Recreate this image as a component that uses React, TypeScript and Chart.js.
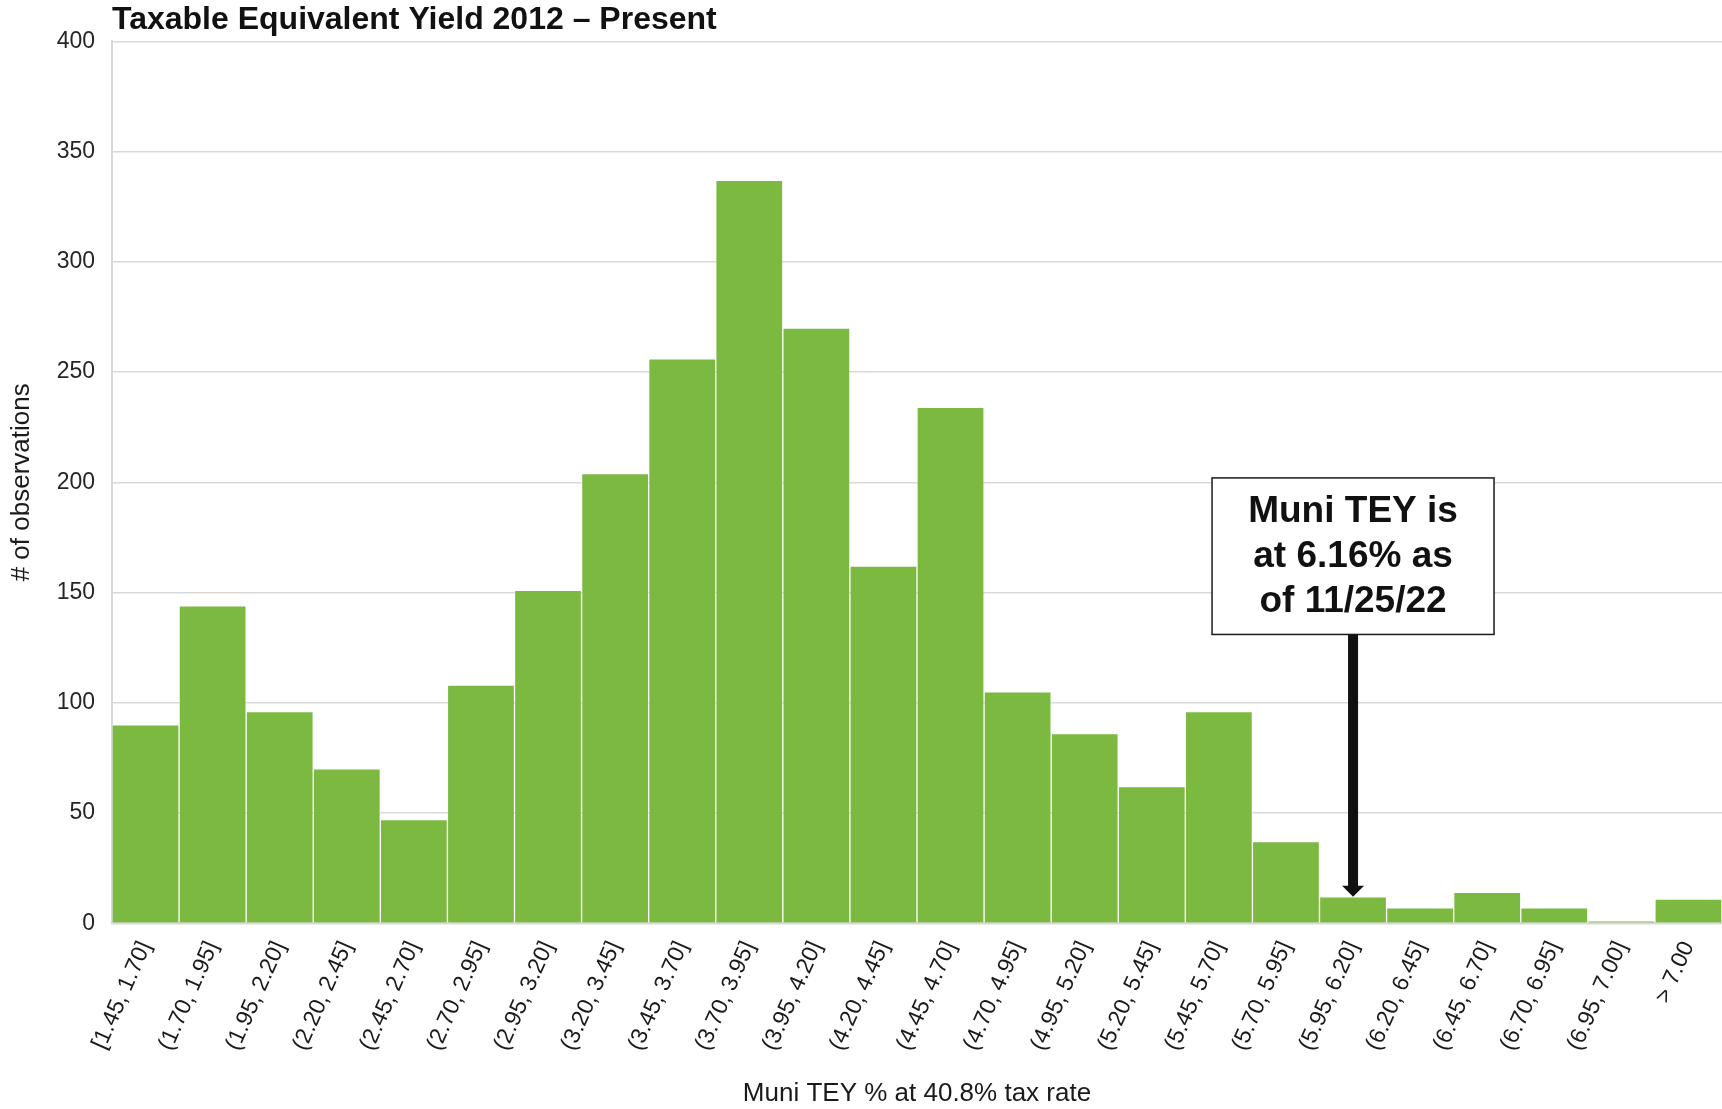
import React, { useEffect, useRef } from "react";
import { Chart, registerables } from "chart.js";

Chart.register(...registerables);

const chartTitle = "Taxable Equivalent Yield 2012 \u2013 Present";
const xAxisTitle = "Muni TEY % at 40.8% tax rate";
const yAxisTitle = "# of observations";

const categories = [
  "[1.45, 1.70]",
  "(1.70, 1.95]",
  "(1.95, 2.20]",
  "(2.20, 2.45]",
  "(2.45, 2.70]",
  "(2.70, 2.95]",
  "(2.95, 3.20]",
  "(3.20, 3.45]",
  "(3.45, 3.70]",
  "(3.70, 3.95]",
  "(3.95, 4.20]",
  "(4.20, 4.45]",
  "(4.45, 4.70]",
  "(4.70, 4.95]",
  "(4.95, 5.20]",
  "(5.20, 5.45]",
  "(5.45, 5.70]",
  "(5.70, 5.95]",
  "(5.95, 6.20]",
  "(6.20, 6.45]",
  "(6.45, 6.70]",
  "(6.70, 6.95]",
  "(6.95, 7.00]",
  "> 7.00",
];

const observations = [
  90, 144, 96, 70, 47, 108, 151, 204, 256, 337, 270, 162, 234, 105, 86, 62, 96,
  37, 12, 7, 14, 7, 1, 11,
];

const yMin = 0;
const yMax = 400;
const yStep = 50;

const annotationLines = ["Muni TEY is", "at 6.16% as", "of 11/25/22"];
const annotationCategory = "(5.95, 6.20]";
const annotationBoxTopValue = 202;
const annotationBoxBottomValue = 131;

const FONT = "'Liberation Sans', Arial, Helvetica, sans-serif";

const annotationPlugin = {
  id: "teyAnnotation",
  afterDatasetsDraw(chart: any) {
    const { ctx, scales } = chart;
    const x = scales.x;
    const y = scales.y;
    const idx = categories.indexOf(annotationCategory);
    const cx = x.getPixelForValue(idx);
    const barTop = y.getPixelForValue(observations[idx]);
    const boxTop = y.getPixelForValue(annotationBoxTopValue);
    const boxBottom = y.getPixelForValue(annotationBoxBottomValue);
    const boxW = 282;
    const boxLeft = cx - boxW / 2;

    ctx.save();
    const headH = 11;
    const headW = 22;
    ctx.fillStyle = "#111111";
    ctx.fillRect(cx - 5, boxBottom, 10, barTop - headH - boxBottom + 1);
    ctx.beginPath();
    ctx.moveTo(cx - headW / 2, barTop - headH);
    ctx.lineTo(cx + headW / 2, barTop - headH);
    ctx.lineTo(cx, barTop);
    ctx.closePath();
    ctx.fill();

    ctx.fillStyle = "#ffffff";
    ctx.fillRect(boxLeft, boxTop, boxW, boxBottom - boxTop);
    ctx.strokeStyle = "#1a1a1a";
    ctx.lineWidth = 1.5;
    ctx.strokeRect(boxLeft, boxTop, boxW, boxBottom - boxTop);

    ctx.fillStyle = "#111111";
    ctx.font = `bold 37px ${FONT}`;
    ctx.textAlign = "center";
    ctx.textBaseline = "middle";
    const cy = (boxTop + boxBottom) / 2;
    const lh = 45;
    annotationLines.forEach((line, i) => {
      ctx.fillText(line, cx, cy + (i - (annotationLines.length - 1) / 2) * lh + 1);
    });
    ctx.restore();
  },
};

export default function App() {
  const canvasRef = useRef<HTMLCanvasElement | null>(null);

  useEffect(() => {
    document.body.style.margin = "0";
    document.body.style.overflow = "hidden";
    const canvas = canvasRef.current;
    if (!canvas) return;
    const chart = new Chart(canvas, {
      type: "bar",
      data: {
        labels: categories,
        datasets: [
          {
            label: yAxisTitle,
            data: observations,
            backgroundColor: "#7bb941",
            borderColor: "rgba(255,255,255,0.18)",
            borderWidth: 1,
            barPercentage: 1,
            categoryPercentage: 1,
          },
        ],
      },
      options: {
        animation: false,
        responsive: false,
        maintainAspectRatio: false,
        layout: {
          padding: { left: 4, right: 0, top: 0, bottom: 0 },
        },
        plugins: {
          legend: { display: false },
          tooltip: { enabled: false },
          title: {
            display: true,
            text: chartTitle,
            align: "start",
            fullSize: false,
            color: "#111111",
            font: { family: FONT, size: 32, weight: "bold" },
            padding: { top: 1, bottom: 2 },
          },
        },
        scales: {
          x: {
            grid: { display: false, drawTicks: false },
            border: { display: true, color: "#d9d9d9", width: 2 },
            afterFit(scale: any) {
              scale.paddingLeft = 0;
              scale.paddingRight = 0;
            },
            ticks: {
              color: "#1a1a1a",
              font: { family: FONT, size: 23 },
              minRotation: 66,
              maxRotation: 66,
              autoSkip: false,
              padding: 14,
            },
            title: {
              display: true,
              text: xAxisTitle,
              color: "#1a1a1a",
              font: { family: FONT, size: 26 },
              padding: { top: 9, bottom: 0 },
            },
          },
          y: {
            min: yMin,
            max: yMax,
            afterFit(scale: any) {
              scale.width = 108;
            },
            grid: { color: "#d9d9d9", lineWidth: 1.5, drawTicks: false },
            border: { display: true, color: "#d9d9d9", width: 2 },
            ticks: {
              stepSize: yStep,
              color: "#262626",
              font: { family: FONT, size: 23 },
              padding: 17,
            },
            title: {
              display: true,
              text: yAxisTitle,
              color: "#1a1a1a",
              font: { family: FONT, size: 26 },
              padding: { top: 2, bottom: 10 },
            },
          },
        },
      },
      plugins: [annotationPlugin],
    });
    return () => {
      chart.destroy();
    };
  }, []);

  return (
    <div style={{ width: 1722, height: 1109, position: "relative" }}>
      <canvas ref={canvasRef} width={1722} height={1109} style={{ display: "block" }} />
    </div>
  );
}
